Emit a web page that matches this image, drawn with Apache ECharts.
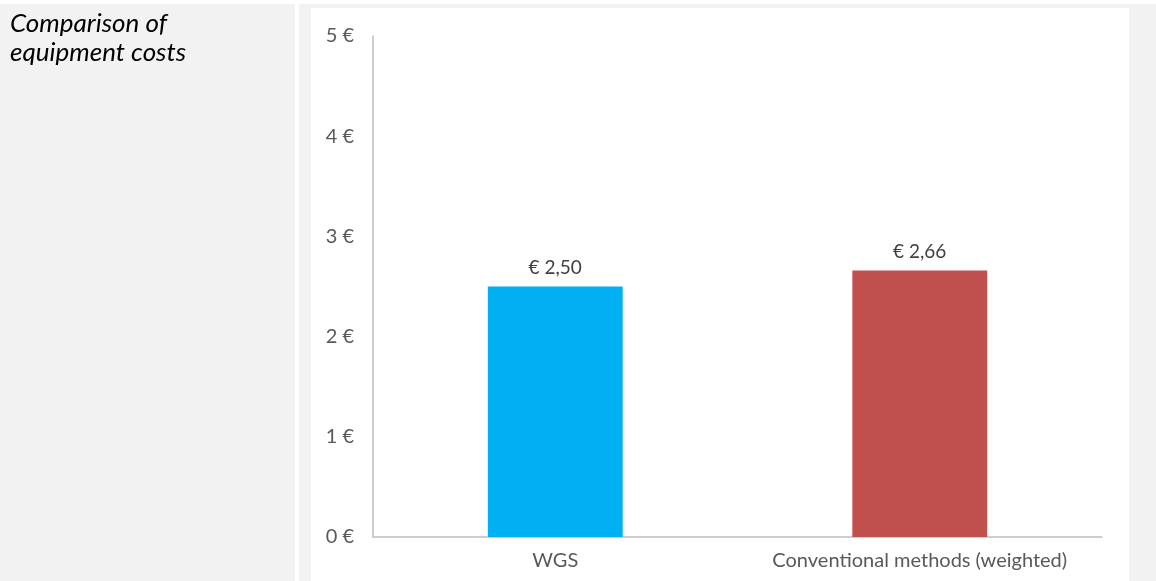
<!DOCTYPE html>
<html>
<head>
<meta charset="utf-8">
<script src="https://cdn.jsdelivr.net/npm/echarts@6/dist/echarts.min.js"></script>
<style>
html,body{margin:0;padding:0;background:#ffffff;}
#chart{width:1156px;height:581px;}
</style>
</head>
<body>
<div id="chart"></div>
<script>
const categories = ["WGS", "Conventional methods (weighted)"];
const costs = [2.50, 2.66];
const barColors = ["#00B0F0", "#C0504D"];
const yTicks = [0, 1, 2, 3, 4, 5];
const titleLines = ["Comparison of", "equipment costs"];

const chart = echarts.init(document.getElementById('chart'), null, {renderer: 'canvas'});
const font = 'Lato, "Open Sans", sans-serif';

chart.setOption({
  animation: false,
  backgroundColor: '#ffffff',
  graphic: [
    {type: 'rect', shape: {x: 0, y: 4, width: 295, height: 577}, style: {fill: '#F2F2F2'}, z: -10},
    {type: 'rect', shape: {x: 299, y: 4, width: 857, height: 577}, style: {fill: '#F2F2F2'}, z: -10},
    {type: 'rect', shape: {x: 311, y: 8, width: 818, height: 573}, style: {fill: '#FFFFFF'}, z: -9},
    {type: 'text', left: 10, top: 9, z: 10,
     style: {text: titleLines.join('\n'), font: 'italic 26px ' + font, fill: '#000000', lineHeight: 29}}
  ],
  grid: {left: 373, right: 54, top: 36, bottom: 44, containLabel: false},
  xAxis: {
    type: 'category',
    data: categories,
    axisLine: {show: true, lineStyle: {color: '#BFBFBF', width: 1.5}},
    axisTick: {show: false},
    axisLabel: {interval: 0, hideOverlap: false, color: '#595959', fontFamily: font, fontSize: 20, margin: 14}
  },
  yAxis: {
    type: 'value',
    min: yTicks[0],
    max: yTicks[yTicks.length - 1],
    interval: 1,
    axisLine: {show: true, lineStyle: {color: '#BFBFBF', width: 1.5}},
    axisTick: {show: false},
    splitLine: {show: false},
    axisLabel: {color: '#595959', fontFamily: font, fontSize: 20, margin: 19,
      formatter: v => v + ' €'}
  },
  series: [{
    type: 'bar',
    barWidth: '37%',
    data: costs.map((v, i) => ({value: v, itemStyle: {color: barColors[i]}})),
    label: {
      show: true, position: 'top', distance: 9,
      color: '#404040', fontFamily: font, fontSize: 19,
      formatter: p => '€ ' + p.value.toFixed(2).replace('.', ',')
    }
  }]
});
</script>
</body>
</html>
